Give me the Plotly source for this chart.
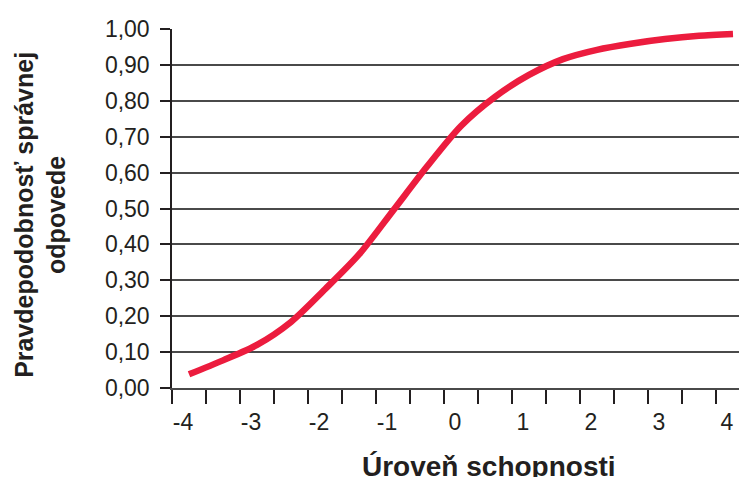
import plotly.graph_objects as go

# Data
ability = [-4.0, -3.5, -3.0, -2.5, -2.0, -1.5, -1.0, -0.5, 0.0,
           0.5, 1.0, 1.5, 2.0, 2.5, 3.0, 3.5, 4.0]
prob = [0.038, 0.077, 0.12, 0.184, 0.275, 0.372, 0.494, 0.617, 0.73,
        0.811, 0.872, 0.916, 0.942, 0.959, 0.972, 0.981, 0.986]

x_labels = [-4, -3, -2, -1, 0, 1, 2, 3, 4]
y_ticks = [round(i * 0.1, 1) for i in range(11)]

x_title = "Úroveň schopnosti"
y_title = "Pravdepodobnosť správnej<br>odpovede"

TXT = "#231f20"
GRID = "#4a4a4a"
FONT = "Liberation Sans, Arial, Helvetica, sans-serif"

fig = go.Figure()
fig.add_trace(go.Scatter(
    x=ability, y=prob, mode="lines",
    line=dict(color="#ec1c3e", width=6.5, shape="spline", smoothing=0.8),
    hoverinfo="skip", showlegend=False,
))

label_shift = 0.088
fig.update_layout(
    width=739, height=469,
    margin=dict(l=164, r=0, t=21, b=89),
    paper_bgcolor="white", plot_bgcolor="white",
    separators=", ",
    font=dict(family=FONT, size=23, color=TXT),
    xaxis=dict(
        range=[-4.25, 4.206],
        tickmode="array",
        tickvals=[v - label_shift for v in x_labels],
        ticktext=[str(v) for v in x_labels],
        ticks="",
        showgrid=False, zeroline=False,
        showline=True, linecolor=GRID, linewidth=1.5,
        minor=dict(tick0=-4.25, dtick=0.5, ticks="outside", ticklen=14,
                   tickcolor=TXT, tickwidth=1.5, showgrid=False),
        ticklabelstandoff=13,
        tickfont=dict(size=23, color=TXT),
    ),
    yaxis=dict(
        range=[0, 1.0],
        tickmode="array",
        tickvals=y_ticks,
        tickformat=".2f",
        ticks="outside", ticklen=10, tickcolor=TXT, tickwidth=1.5,
        showgrid=True, gridcolor=GRID, gridwidth=1.5,
        zeroline=False,
        showline=True, linecolor=TXT, linewidth=1.5,
        ticklabelstandoff=6,
        tickfont=dict(size=23, color=TXT),
    ),
    annotations=[
        dict(text="<b>" + x_title + "</b>", xref="paper", yref="paper",
             x=0.552, y=-0.22, xanchor="center", yanchor="middle",
             showarrow=False, font=dict(size=28, color=TXT, family=FONT)),
        dict(text="<b>" + y_title + "</b>", xref="paper", yref="paper",
             x=-0.228, y=0.482, xanchor="center", yanchor="middle",
             textangle=-90, showarrow=False,
             font=dict(size=25, color=TXT, family=FONT)),
    ],
)

fig.write_html("out.html")
